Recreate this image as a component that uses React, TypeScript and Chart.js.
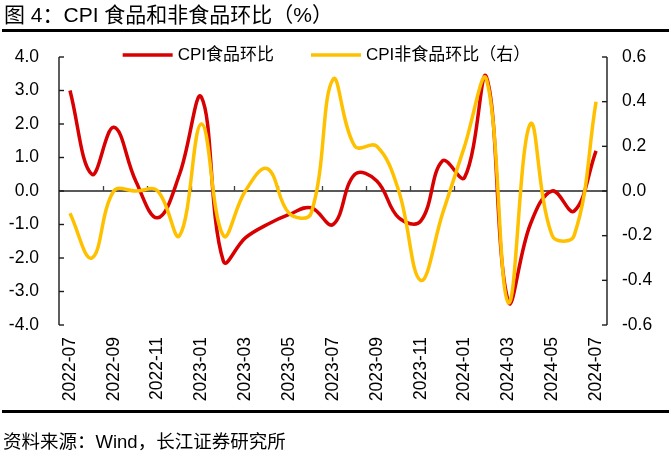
import { useEffect, useRef } from "react";
import { Chart, registerables } from "chart.js";

Chart.register(...registerables);

const months = [
  "2022-07", "2022-08", "2022-09", "2022-10", "2022-11", "2022-12",
  "2023-01", "2023-02", "2023-03", "2023-04", "2023-05", "2023-06",
  "2023-07", "2023-08", "2023-09", "2023-10", "2023-11", "2023-12",
  "2024-01", "2024-02", "2024-03", "2024-04", "2024-05", "2024-06",
  "2024-07",
];

const foodMoM = [
  3.0, 0.5, 1.9, 0.3, -0.8, 0.5,
  2.8, -2.1, -1.4, -1.0, -0.7, -0.5,
  -1.0, 0.5, 0.3, -0.8, -0.9, 0.9,
  0.4, 3.4, -3.3, -1.0, 0.0, -0.6,
  1.2,
];

const nonFoodMoM = [
  -0.1, -0.3, 0.0, 0.0, 0.0, -0.2,
  0.3, -0.2, 0.0, 0.1, -0.1, -0.1,
  0.5, 0.2, 0.2, 0.0, -0.4, -0.1,
  0.2, 0.5, -0.5, 0.3, -0.2, -0.2,
  0.4,
];

const seriesNames = ["CPI食品环比", "CPI非食品环比（右）"];
const seriesColors = ["#D80000", "#FFC000"];

const titleText = "图 4：CPI 食品和非食品环比（%）";
const sourceText = "资料来源：Wind，长江证券研究所";

const FONT = "'Liberation Sans', 'Noto Sans CJK SC', Arial, sans-serif";

const decorPlugin = {
  id: "decor",
  beforeDatasetsDraw(chart: any) {
    const { ctx, chartArea: a, scales } = chart;
    const yL = scales.yL;
    const yR = scales.yR;
    const x = scales.x;
    const zeroY = yL.getPixelForValue(0);
    ctx.save();
    ctx.strokeStyle = "#595959";
    ctx.lineWidth = 2;
    ctx.beginPath();
    ctx.moveTo(a.left, zeroY);
    ctx.lineTo(a.right, zeroY);
    ctx.stroke();
    ctx.lineWidth = 1.3;
    ctx.strokeStyle = "#404040";
    for (let i = 2; i < months.length; i += 2) {
      const bx = (x.getPixelForValue(i - 1) + x.getPixelForValue(i)) / 2;
      ctx.beginPath();
      ctx.moveTo(Math.round(bx) + 0.5, zeroY);
      ctx.lineTo(Math.round(bx) + 0.5, zeroY - 5);
      ctx.stroke();
    }
    ctx.strokeStyle = "#1a1a1a";
    ctx.lineWidth = 1.4;
    ctx.beginPath();
    ctx.moveTo(a.left, a.top);
    ctx.lineTo(a.left, a.bottom);
    ctx.moveTo(a.right, a.top);
    ctx.lineTo(a.right, a.bottom);
    ctx.stroke();
    yL.ticks.forEach((t: any) => {
      const py = yL.getPixelForValue(t.value);
      ctx.beginPath();
      ctx.moveTo(a.left, py);
      ctx.lineTo(a.left + 5, py);
      ctx.stroke();
    });
    yR.ticks.forEach((t: any) => {
      const py = yR.getPixelForValue(t.value);
      ctx.beginPath();
      ctx.moveTo(a.right, py);
      ctx.lineTo(a.right - 5, py);
      ctx.stroke();
    });
    ctx.restore();
  },
  afterDraw(chart: any) {
    const { ctx, chartArea: a } = chart;
    ctx.save();
    ctx.font = `17px ${FONT}`;
    ctx.textBaseline = "middle";
    ctx.textAlign = "left";
    const sw = 50;
    const gap = 5;
    const itemGap = 37;
    const widths = chart.data.datasets.map((d: any) => sw + gap + ctx.measureText(d.label).width);
    const total = widths.reduce((s: number, w: number) => s + w, 0) + itemGap * (widths.length - 1);
    const center = (a.left + a.right) / 2 - 6.5;
    let cx = center - total / 2;
    const ly = a.top - 2;
    chart.data.datasets.forEach((d: any, i: number) => {
      ctx.strokeStyle = d.borderColor;
      ctx.lineWidth = 3.5;
      ctx.beginPath();
      ctx.moveTo(cx, ly);
      ctx.lineTo(cx + sw, ly);
      ctx.stroke();
      ctx.fillStyle = "#000";
      ctx.fillText(d.label, cx + sw + gap, ly);
      cx += widths[i] + itemGap;
    });
    ctx.restore();
  },
};

function fmt(v: number) {
  const r = Math.abs(v) < 1e-9 ? 0 : v;
  return r.toFixed(1);
}

function ChartCanvas() {
  const ref = useRef<HTMLCanvasElement | null>(null);
  useEffect(() => {
    if (!ref.current) return;
    const chart = new Chart(ref.current, {
      type: "line",
      data: {
        labels: months,
        datasets: [
          {
            label: seriesNames[0],
            data: foodMoM,
            yAxisID: "yL",
            borderColor: seriesColors[0],
            backgroundColor: seriesColors[0],
            borderWidth: 3.5,
            pointRadius: 0,
            tension: 0.4,
            fill: false,
            order: 2,
          },
          {
            label: seriesNames[1],
            data: nonFoodMoM,
            yAxisID: "yR",
            borderColor: seriesColors[1],
            backgroundColor: seriesColors[1],
            borderWidth: 3.5,
            pointRadius: 0,
            tension: 0.4,
            fill: false,
            order: 1,
          },
        ],
      },
      options: {
        responsive: false,
        animation: false,
        events: [],
        layout: { padding: { top: 57, left: 0, right: 0, bottom: 0 } },
        plugins: {
          legend: { display: false },
          title: { display: false },
          tooltip: { enabled: false },
        },
        scales: {
          x: {
            type: "category",
            offset: true,
            grid: { display: false, drawTicks: false },
            border: { display: false },
            ticks: {
              autoSkip: false,
              minRotation: 90,
              maxRotation: 90,
              padding: 12,
              color: "#000",
              font: { size: 17.5, family: FONT },
              callback: (_v: any, i: number) => (i % 2 === 0 ? months[i] : ""),
            },
            afterFit: (s: any) => {
              s.height = 134;
            },
          },
          yL: {
            type: "linear",
            position: "left",
            min: -4,
            max: 4,
            grid: { display: false, drawTicks: false },
            border: { display: false },
            ticks: {
              stepSize: 1,
              padding: 20,
              color: "#000",
              font: { size: 17.5, family: FONT },
              callback: (v: any) => fmt(Number(v)),
            },
            afterFit: (s: any) => {
              s.width = 59;
            },
          },
          yR: {
            type: "linear",
            position: "right",
            min: -0.6,
            max: 0.6,
            grid: { display: false, drawTicks: false },
            border: { display: false },
            ticks: {
              stepSize: 0.2,
              padding: 15,
              color: "#000",
              font: { size: 17.5, family: FONT },
              callback: (v: any) => fmt(Number(v)),
            },
            afterFit: (s: any) => {
              s.width = 64;
            },
          },
        },
      },
      plugins: [decorPlugin],
    });
    return () => chart.destroy();
  }, []);
  return (
    <canvas
      ref={ref}
      width={671}
      height={459}
      style={{ position: "absolute", left: 0, top: 0, width: 671, height: 459 }}
    />
  );
}

export default function App() {
  return (
    <div
      style={{
        position: "absolute",
        left: 0,
        top: 0,
        width: 671,
        height: 459,
        background: "#fff",
        overflow: "hidden",
        fontFamily: FONT,
      }}
    >
      <ChartCanvas />
      <div
        style={{
          position: "absolute",
          left: 4,
          top: 2,
          fontSize: 21,
          lineHeight: "26px",
          color: "#000",
          whiteSpace: "nowrap",
        }}
      >
        {titleText}
      </div>
      <div style={{ position: "absolute", left: 2, top: 29, width: 667, height: 2.5, background: "#000" }} />
      <div style={{ position: "absolute", left: 2, top: 410, width: 667, height: 2.5, background: "#000" }} />
      <div
        style={{
          position: "absolute",
          left: 3,
          top: 430,
          fontSize: 18.5,
          lineHeight: "24px",
          color: "#000",
          whiteSpace: "nowrap",
        }}
      >
        {sourceText}
      </div>
    </div>
  );
}
